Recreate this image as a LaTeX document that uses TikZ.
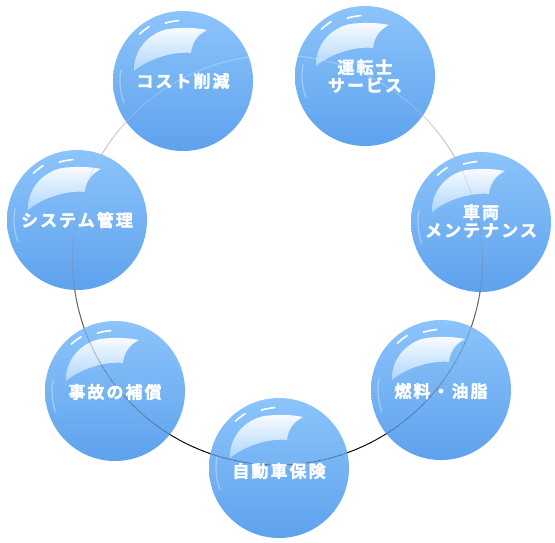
\documentclass[tikz,border=0pt]{standalone}
\usepackage{fontspec}
\newfontfamily\jpfont{Noto Sans CJK JP}[LetterSpace=12, BoldFont={Noto Sans CJK JP Bold}, BoldFeatures={FakeBold=2}]

\definecolor{bubbletop}{RGB}{140,196,251}
\definecolor{bubblebottom}{RGB}{94,162,237}

\tikzset{
  bubble/.style={circle, minimum size=140pt, inner sep=0pt, draw=none,
    top color=bubbletop, bottom color=bubblebottom},
  caption/.style={text=white, align=center, inner sep=0pt,
    font=\jpfont\bfseries\fontsize{17}{18}\selectfont},
  ring/.style={line width=0.9pt},
}

\begin{document}
\begin{tikzpicture}[x=1pt, y=-1pt]

\useasboundingbox (0,0) rectangle (555,542);

% Ring
\coordinate (hub) at (277.5,260);
\foreach \a [evaluate=\a as \p using {max(0,min(100,50+50*sin(\a+1.5)))}] in {0,3,...,357}
  \draw[ring, black!\p] ([shift={(\a:205)}]hub) arc[start angle=\a, delta angle=3.2, radius=205];

% Bubbles
\node[bubble] (cost) at (183,81) {};
\node[bubble] (driver) at (365,76) {};
\node[bubble] (system) at (77,220) {};
\node[bubble] (vehicle) at (481,222) {};
\node[bubble] (accident) at (115,391) {};
\node[bubble] (fuel) at (441,390) {};
\node[bubble] (insurance) at (279,468) {};

% Gloss
\foreach \b in {cost,driver,system,vehicle,accident,fuel,insurance}{
\begin{scope}[shift={(\b.center)}, yscale=-1]

\shade[top color=white!95!bubbletop, bottom color=white!30!bubbletop]
(24,51)
.. controls (14,46) and (9,38) .. (8,28)
.. controls (-10,30) and (-35,22) .. (-49,10)
.. controls (-50,30) and (-35,48) .. (-15,52)
.. controls (0,54) and (15,53) .. (24,51) -- cycle;

\draw[white, line width=1.6pt, line cap=round] (107:60.5) arc[start angle=107, end angle=94, radius=60.5];
\draw[white, line width=1.6pt, line cap=round] (133:64) arc[start angle=133, end angle=122, radius=64];
\draw[white, opacity=0.35, line width=1.2pt, line cap=round] (170:63) arc[start angle=170, end angle=200, radius=63];

\end{scope}
}

% Ring seen through the bubbles
\foreach \a [evaluate=\a as \p using {max(0,min(100,50+50*sin(\a+1.5)))}] in {0,3,...,357}
  \draw[ring, black!\p, opacity=0.3] ([shift={(\a:205)}]hub) arc[start angle=\a, delta angle=3.2, radius=205];

% Labels
\node[caption] (cost-label) at (cost) {コスト削減};
\node[caption] (driver-label) at (driver) {運転士\\サービス};
\node[caption] (system-label) at (system) {システム管理};
\node[caption] (vehicle-label) at ([yshift=1pt]vehicle) {車両\\メンテナンス};
\node[caption] (accident-label) at ([yshift=-1pt]accident) {事故の補償};
\node[caption] (fuel-label) at ([yshift=-1pt]fuel) {燃料・油脂};
\node[caption] (insurance-label) at ([yshift=-3pt]insurance) {自動車保険};

\end{tikzpicture}
\end{document}
